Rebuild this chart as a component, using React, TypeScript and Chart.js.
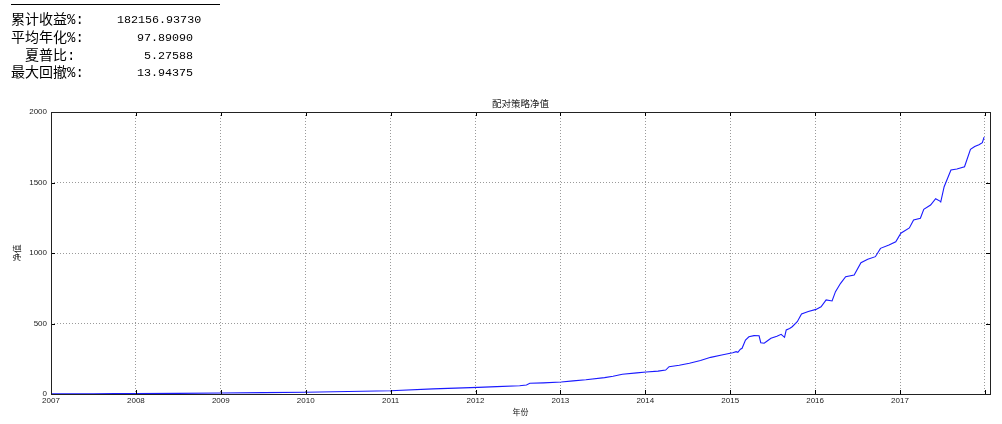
import React, { useEffect, useRef } from "react";
import { Chart, registerables } from "chart.js";

Chart.register(...registerables);

// ---- data ----
const years: number[] = [
  2007.0, 2007.25, 2007.5, 2007.75, 2008.0, 2008.5, 2009.0, 2009.5, 2010.0, 2010.5,
  2011.0, 2011.5, 2012.03, 2012.25, 2012.52, 2012.6, 2012.64, 2012.8, 2013.01, 2013.15,
  2013.3, 2013.52, 2013.62, 2013.73, 2013.9, 2014.01, 2014.15, 2014.24, 2014.28, 2014.4,
  2014.52, 2014.65, 2014.77, 2014.9, 2015.0, 2015.03, 2015.07, 2015.09, 2015.12, 2015.14,
  2015.18, 2015.22, 2015.28, 2015.34, 2015.36, 2015.4, 2015.44, 2015.48, 2015.55, 2015.6,
  2015.64, 2015.66, 2015.7, 2015.73, 2015.79, 2015.84, 2015.92, 2016.01, 2016.07, 2016.13,
  2016.2, 2016.24, 2016.3, 2016.36, 2016.46, 2016.54, 2016.62, 2016.71, 2016.77, 2016.87,
  2016.95, 2017.01, 2017.11, 2017.16, 2017.24, 2017.28, 2017.36, 2017.42, 2017.47, 2017.48,
  2017.52, 2017.6, 2017.67, 2017.76, 2017.83, 2017.88, 2017.93, 2017.97, 2017.99,
];
const netValues: number[] = [
  1.0, 1.4, 1.9, 2.4, 3.0, 4.6, 7.0, 9.5, 12.5, 17.5,
  23.5, 36.5, 47.0, 52.0, 59.0, 64.0, 76.0, 79.0, 85.0, 93.0,
  101.0, 116.0, 126.0, 140.0, 150.0, 156.0, 162.0, 170.0, 194.0, 204.0,
  218.0, 238.0, 260.0, 276.0, 289.0, 293.0, 300.0, 296.0, 318.0, 324.0,
  383.0, 406.0, 414.0, 413.0, 364.0, 360.0, 378.0, 395.0, 410.0, 423.0,
  402.0, 454.0, 465.0, 477.0, 513.0, 567.0, 585.0, 600.0, 619.0, 667.0,
  660.0, 726.0, 785.0, 832.0, 844.0, 931.0, 955.0, 974.0, 1033.0, 1057.0,
  1080.0, 1140.0, 1178.0, 1234.0, 1246.0, 1310.0, 1340.0, 1385.0, 1368.0, 1362.0,
  1470.0, 1589.0, 1596.0, 1612.0, 1735.0, 1755.0, 1768.0, 1782.0, 1822.0,
];
const xTickYears: number[] = [2007, 2008, 2009, 2010, 2011, 2012, 2013, 2014, 2015, 2016, 2017, 2018];
const xTickHidden: number[] = [2018];
const yTickValues: number[] = [0, 500, 1000, 1500, 2000];
const statLabels: string[] = ["累计收益%:", "平均年化%:", "夏普比:", "最大回撤%:"];
const statValues: string[] = ["182156.93730", "97.89090", "5.27588", "13.94375"];
const chartTitle = "配对策略净值";
const xTitle = "年份";
const yTitle = "净值";

// ---- layout (positions only) ----
const labelLefts = [11, 11, 25, 11];
const valueLefts = [117, 137, 144, 137];
const rowTops = [11, 29, 47, 64];

const FONT = "'Liberation Sans', 'Noto Sans CJK SC', sans-serif";

const framePlugin = {
  id: "frameTicks",
  afterDraw(chart: any) {
    const { ctx, chartArea, scales } = chart;
    const { left, right, top, bottom } = chartArea;
    ctx.save();
    ctx.strokeStyle = "#000";
    ctx.lineWidth = 1;
    ctx.beginPath();
    xTickYears.forEach((v) => {
      const px = Math.round(scales.x.getPixelForValue(v)) + 0.5;
      ctx.moveTo(px, bottom);
      ctx.lineTo(px, bottom - 4);
      ctx.moveTo(px, top);
      ctx.lineTo(px, top + 4);
    });
    yTickValues.forEach((v) => {
      const py = Math.round(scales.y.getPixelForValue(v)) + 0.5;
      ctx.moveTo(left, py);
      ctx.lineTo(left + 4, py);
      ctx.moveTo(right, py);
      ctx.lineTo(right - 4, py);
    });
    ctx.stroke();
    ctx.strokeStyle = "#222";
    ctx.strokeRect(Math.round(left) + 0.5, Math.round(top) + 0.5, Math.round(right - left), Math.round(bottom - top));
    ctx.restore();
  },
};

export default function App() {
  const canvasRef = useRef<HTMLCanvasElement | null>(null);

  useEffect(() => {
    if (!canvasRef.current) return;
    const points = years.map((x, i) => ({ x, y: netValues[i] }));
    const chart = new Chart(canvasRef.current, {
      type: "line",
      data: {
        datasets: [
          {
            data: points,
            borderColor: "#1a1aff",
            borderWidth: 1.1,
            pointRadius: 0,
            fill: false,
            tension: 0,
          },
        ],
      },
      options: {
        animation: false,
        responsive: false,
        maintainAspectRatio: false,
        layout: { padding: { left: 13, right: 12, top: 98.3, bottom: 6.2 } },
        plugins: {
          legend: { display: false },
          tooltip: { enabled: false },
          title: {
            display: true,
            text: chartTitle,
            fullSize: false,
            color: "#222",
            font: { family: FONT, size: 9.5, weight: "normal" },
            padding: { top: 0, bottom: 2.3 },
          },
        },
        scales: {
          x: {
            type: "linear",
            min: 2007,
            max: 2018.06,
            afterBuildTicks: (s: any) => {
              s.ticks = xTickYears.map((v) => ({ value: v }));
            },
            afterFit: (s: any) => {
              s.height = 23.8;
            },
            ticks: {
              autoSkip: false,
              maxRotation: 0,
              padding: 2,
              color: "#222",
              font: { family: FONT, size: 8 },
              callback: (v: any) => (xTickHidden.includes(Number(v)) ? "" : String(v)),
            },
            grid: {
              drawTicks: false,
              color: "#9a9a9a",
              lineWidth: 1,
            },
            border: { display: false, dash: [1, 2] },
            title: {
              display: true,
              text: xTitle,
              color: "#222",
              font: { family: FONT, size: 8 },
              padding: 0,
            },
          },
          y: {
            type: "linear",
            min: 0,
            max: 2000,
            afterBuildTicks: (s: any) => {
              s.ticks = yTickValues.map((v) => ({ value: v }));
            },
            afterFit: (s: any) => {
              s.width = 38;
            },
            ticks: {
              padding: 4,
              color: "#222",
              font: { family: FONT, size: 8 },
              callback: (v: any) => String(v),
            },
            grid: {
              drawTicks: false,
              color: "#9a9a9a",
              lineWidth: 1,
            },
            border: { display: false, dash: [1, 2] },
            title: {
              display: true,
              text: yTitle,
              color: "#222",
              font: { family: FONT, size: 8.5 },
              padding: 0,
            },
          },
        },
      },
      plugins: [framePlugin],
    });
    return () => chart.destroy();
  }, []);

  return (
    <div style={{ position: "fixed", left: 0, top: 0, width: 1002, height: 424, background: "#fff" }}>
      <canvas ref={canvasRef} width={1002} height={424} style={{ position: "absolute", left: 0, top: 0, width: 1002, height: 424 }} />
      <div style={{ position: "absolute", left: 11, top: 4, width: 209, height: 1, background: "#000" }} />
      {statLabels.map((lab, i) => (
        <React.Fragment key={i}>
          <div
            style={{
              position: "absolute",
              left: labelLefts[i],
              top: rowTops[i],
              fontFamily: "'Liberation Mono', 'Noto Sans CJK SC', monospace",
              fontSize: 14,
              lineHeight: "18px",
              color: "#000",
              whiteSpace: "pre",
            }}
          >
            {lab}
          </div>
          <div
            style={{
              position: "absolute",
              left: valueLefts[i],
              top: rowTops[i],
              fontFamily: "'Liberation Mono', monospace",
              fontSize: 11.7,
              lineHeight: "18px",
              color: "#000",
              whiteSpace: "pre",
            }}
          >
            {statValues[i]}
          </div>
        </React.Fragment>
      ))}
    </div>
  );
}
